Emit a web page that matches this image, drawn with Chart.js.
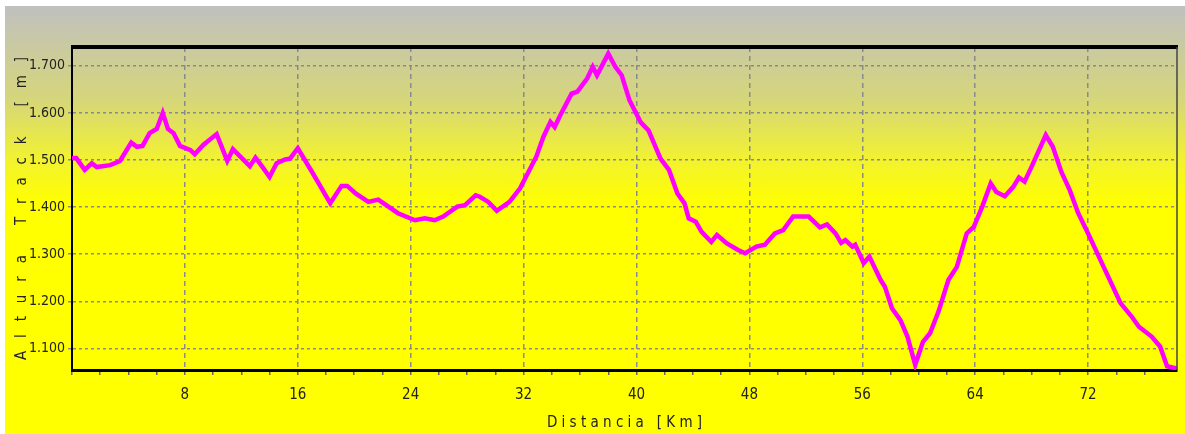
<!DOCTYPE html>
<html>
<head>
<meta charset="utf-8">
<script src="https://cdn.jsdelivr.net/npm/chart.js@4/dist/chart.umd.min.js"></script>
<style>
  html, body { margin: 0; padding: 0; background: #fff; }
  #perfil {
    position: absolute; left: 5px; top: 6px;
    background: linear-gradient(to bottom, #c0c0c0 0%, #d6d67a 22%, #f2f230 36%, #ffff00 46%, #ffff00 100%);
  }
</style>
</head>
<body>
<canvas id="perfil" width="1180" height="428"></canvas>
<script>
// Perfil de altura del track
const distanciaKm = [0.0, 0.3, 0.9, 1.4, 1.75, 2.7, 3.4, 4.2, 4.6, 5.0, 5.5, 6.0, 6.43, 6.8, 7.2, 7.65,
  8.4, 8.7, 9.3, 10.25, 11.0, 11.4, 12.6, 13.0, 13.4, 14.0, 14.5, 15.1, 15.45, 16.0, 17.0, 18.3,
  19.1, 19.5, 20.1, 21.0, 21.7, 23.1, 24.3, 25.0, 25.7, 26.3, 27.3, 27.85, 28.6, 28.9, 29.5, 30.1,
  31.0, 31.75, 32.9, 33.4, 33.9, 34.2, 34.6, 35.4, 35.8, 36.5, 36.9, 37.2, 38.0, 38.5, 38.95, 39.5,
  40.3, 40.85, 41.7, 42.3, 42.9, 43.4, 43.7, 44.2, 44.6, 45.3, 45.7, 46.4, 47.2, 47.7, 48.5, 49.1,
  49.8, 50.4, 51.1, 52.2, 53.0, 53.5, 54.1, 54.5, 54.8, 55.3, 55.5, 56.1, 56.5, 57.3, 57.6, 58.1,
  58.7, 59.2, 59.75, 60.3, 60.8, 61.4, 62.1, 62.7, 63.4, 63.9, 64.5, 65.1, 65.5, 66.1, 66.7, 67.1,
  67.5, 68.0, 69.0, 69.5, 70.1, 70.7, 71.3, 72.0, 73.1, 74.3, 75.1, 75.6, 76.5, 77.1, 77.6, 78.3];

const alturaM = [1504, 1504, 1479, 1493, 1485, 1489, 1498, 1537, 1528, 1530, 1557, 1566, 1600, 1566, 1557, 1530,
  1521, 1512, 1532, 1555, 1498, 1523, 1487, 1505, 1489, 1464, 1493, 1501, 1503, 1525, 1475, 1408,
  1445, 1445, 1429, 1411, 1416, 1387, 1372, 1376, 1372, 1380, 1401, 1404, 1425, 1422, 1411, 1392,
  1411, 1440, 1507, 1549, 1581, 1570, 1595, 1641, 1645, 1673, 1698, 1680, 1726, 1698, 1680, 1627,
  1580, 1563, 1503, 1479, 1429, 1408, 1376, 1369, 1348, 1326, 1341, 1323, 1309, 1302, 1316, 1320,
  1344, 1351, 1380, 1380, 1357, 1363, 1344, 1324, 1330, 1316, 1320, 1281, 1295, 1245, 1231, 1185,
  1160, 1125, 1065, 1114, 1132, 1178, 1245, 1273, 1344, 1358, 1401, 1450, 1432, 1423, 1443, 1463,
  1454, 1486, 1553, 1528, 1475, 1436, 1387, 1344, 1273, 1196, 1167, 1146, 1125, 1104, 1062, 1057];

const ticksX = [8, 16, 24, 32, 40, 48, 56, 64, 72];
const ticksY = [1100, 1200, 1300, 1400, 1500, 1600, 1700];

const puntos = distanciaKm.map((d, i) => ({ x: d, y: alturaM[i] }));

const fuente = "'DejaVu Sans Condensed', 'Liberation Sans Narrow', 'Liberation Sans', sans-serif";

// marco superior y derecho del area del grafico
const marco = {
  id: 'marco',
  afterDraw(chart) {
    const { ctx, chartArea: a } = chart;
    ctx.save();
    ctx.strokeStyle = '#000';
    ctx.lineWidth = 4;
    ctx.beginPath();
    ctx.moveTo(a.left - 1, a.top);
    ctx.lineTo(a.right + 1, a.top);
    ctx.stroke();
    ctx.strokeStyle = '#444';
    ctx.lineWidth = 1.5;
    ctx.beginPath();
    ctx.moveTo(a.right, a.top);
    ctx.lineTo(a.right, a.bottom);
    ctx.stroke();
    ctx.restore();
  }
};

new Chart(document.getElementById('perfil'), {
  type: 'line',
  data: {
    datasets: [{
      data: puntos,
      borderColor: '#ff00ff',
      borderWidth: 4.5,
      pointRadius: 0,
      tension: 0,
      fill: false
    }]
  },
  options: {
    responsive: false,
    animation: false,
    layout: { padding: { top: 41, right: 8, left: 0, bottom: 0 } },
    plugins: { legend: { display: false }, tooltip: { enabled: false } },
    scales: {
      x: {
        type: 'linear',
        min: 0,
        max: 78.3,
        afterBuildTicks: s => { s.ticks = s.ticks.filter(t => Math.abs(t.value % 2) < 1e-6); },
        afterFit: s => { s.height = 64; },
        ticks: {
          stepSize: 2,
          autoSkip: false,
          maxRotation: 0,
          padding: 11,
          color: '#222',
          font: { family: fuente, size: 15 },
          callback: v => ticksX.includes(v) ? String(v) : ''
        },
        grid: {
          color: c => (c.tick && ticksX.includes(c.tick.value)) ? '#8a8a8a' : 'rgba(0,0,0,0)',
          lineWidth: 1.5,
          tickColor: '#666',
          tickLength: 5,
          tickWidth: 1.5
        },
        border: { color: '#000', width: 3, dash: [5, 4] },
        title: {
          display: true,
          text: 'D i s t a n c i a   [ K m ]',
          color: '#222',
          font: { family: fuente, size: 15 },
          padding: { top: 0, bottom: 2 }
        }
      },
      y: {
        min: 1054,
        max: 1740,
        afterBuildTicks: s => { s.ticks = ticksY.map(v => ({ value: v })); },
        afterFit: s => { s.width = 67; },
        ticks: {
          padding: 3,
          color: '#222',
          font: { family: fuente, size: 14 },
          callback: v => (v / 1000).toFixed(3)
        },
        grid: {
          color: '#8a8a8a',
          lineWidth: 1.5,
          tickColor: '#8a8a8a',
          tickLength: 4
        },
        border: { color: '#000', width: 2, dash: [3, 3] },
        title: {
          display: true,
          text: 'A   l   t   u   r   a       T   r   a   c   k       [   m   ]',
          color: '#222',
          font: { family: fuente, size: 15 },
          padding: { top: 8, bottom: 0 }
        }
      }
    }
  },
  plugins: [marco]
});
</script>
</body>
</html>
